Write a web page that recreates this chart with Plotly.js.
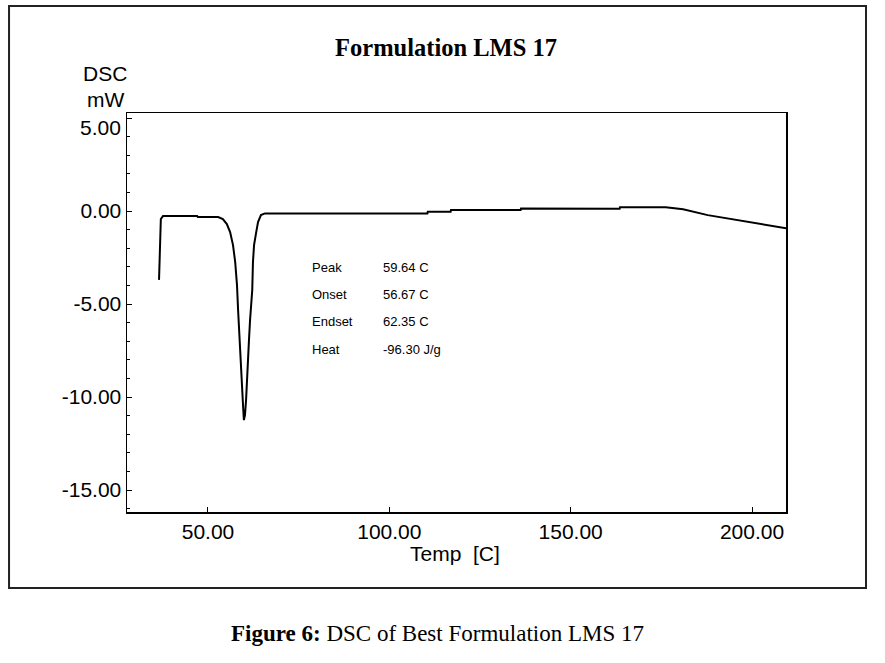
<!DOCTYPE html>
<html>
<head>
<meta charset="utf-8">
<script src="https://cdn.plot.ly/plotly-3.0.1.min.js"></script>
<style>
html,body{margin:0;padding:0;background:#fff;}
#chart{width:885px;height:663px;}
</style>
</head>
<body>
<div id="chart"></div>
<script>
// Temperature (C) and DSC heat flow (mW)
const temp = [36.5, 36.7, 37.0, 37.6, 47.0, 47.2, 52.8, 54.1, 55.2, 56.1, 56.9, 57.5, 58.0, 58.3, 58.8, 59.1, 59.4, 59.7, 59.9, 60.2, 60.5, 61.0, 61.3, 61.6, 62.2, 62.4, 62.7, 63.3, 63.8, 64.6, 65.7, 110.5, 110.6, 116.9, 117.0, 136.2, 136.3, 163.5, 163.6, 176.2, 181.0, 187.8, 198.9, 209.4];
const dsc  = [-3.70, -1.80, -0.43, -0.27, -0.27, -0.32, -0.32, -0.43, -0.70, -1.13, -1.83, -2.74, -3.98, -5.32, -7.47, -8.55, -9.89, -10.59, -11.24, -10.97, -10.16, -8.55, -6.94, -5.86, -4.25, -2.74, -1.83, -1.13, -0.59, -0.22, -0.13, -0.13, -0.04, -0.04, 0.05, 0.05, 0.13, 0.12, 0.20, 0.20, 0.10, -0.22, -0.58, -0.93];

const xTicks = [50, 100, 150, 200];
const xTickText = ["50.00", "100.00", "150.00", "200.00"];
const yTicks = [5, 0, -5, -10, -15];
const yTickText = ["", "0.00", "-5.00", "-10.00", "-15.00"];
const yTopLabel = "5.00";

const resultLabels = ["Peak", "Onset", "Endset", "Heat"];
const resultValues = ["59.64 C", "56.67 C", "62.35 C", "-96.30 J/g"];

const chartTitle = "Formulation LMS 17";
const xTitle = "Temp&nbsp;&nbsp;[C]";
const yTitleLines = ["DSC", "mW"];
const caption = "<b>Figure 6:</b> DSC of Best Formulation LMS 17";

const axisFont = {family: "Liberation Sans, Arial, sans-serif", size: 21, color: "#000"};
const rowY = [0.6123, 0.5439, 0.4769, 0.4085];

const annotations = [];
resultLabels.forEach((t, i) => {
  annotations.push({xref: "paper", yref: "paper", x: 0.2777, y: rowY[i], xanchor: "left", yanchor: "middle",
    text: t, showarrow: false, font: {family: "Liberation Sans, Arial, sans-serif", size: 13, color: "#000"}});
  annotations.push({xref: "paper", yref: "paper", x: 0.385, y: rowY[i], xanchor: "left", yanchor: "middle",
    text: resultValues[i], showarrow: false, font: {family: "Liberation Sans, Arial, sans-serif", size: 13, color: "#000"}});
});
// top tick label drawn slightly lower, as in the reference
annotations.push({xref: "paper", yref: "y", x: -0.006, y: 4.5, xanchor: "right", yanchor: "middle",
  text: yTopLabel, showarrow: false, font: axisFont});
annotations.push({xref: "paper", yref: "paper", x: -0.0334, y: 1.100, xanchor: "center", yanchor: "middle",
  text: yTitleLines[0], showarrow: false, font: axisFont});
annotations.push({xref: "paper", yref: "paper", x: -0.032, y: 1.0326, xanchor: "center", yanchor: "middle",
  text: yTitleLines[1], showarrow: false, font: axisFont});
annotations.push({xref: "paper", yref: "paper", x: 0.498, y: -0.1028, xanchor: "center", yanchor: "middle",
  text: xTitle, showarrow: false, font: axisFont});
annotations.push({xref: "paper", yref: "paper", x: 0.471, y: -0.3033, xanchor: "center", yanchor: "middle",
  text: caption, showarrow: false, font: {family: "Liberation Serif, Times New Roman, serif", size: 23, color: "#000"}});

const layout = {
  width: 885, height: 663,
  margin: {l: 127, r: 99, t: 113, b: 151, pad: 0},
  paper_bgcolor: "#fff", plot_bgcolor: "#fff",
  showlegend: false,
  title: {text: "<b>" + chartTitle + "</b>", x: 0.504, xanchor: "center", y: 0.928, yanchor: "middle", yref: "container",
    font: {family: "Liberation Serif, Times New Roman, serif", size: 24.5, color: "#000"}},
  xaxis: {range: [27.67, 209.37], tickvals: xTicks, ticktext: xTickText, ticks: "inside", ticklen: 5, tickcolor: "#000",
    showgrid: false, zeroline: false, showline: true, linecolor: "#000", linewidth: 1.5, mirror: true,
    tickfont: axisFont},
  yaxis: {range: [-16.18, 5.27], tickvals: yTicks, ticktext: yTickText, ticks: "inside", ticklen: 5, tickcolor: "#000",
    minor: {dtick: 1, ticks: "inside", ticklen: 3, tickcolor: "#000", showgrid: false},
    showgrid: false, zeroline: false, showline: true, linecolor: "#000", linewidth: 1.5, mirror: true,
    tickfont: axisFont},
  annotations: annotations,
  shapes: [{type: "rect", xref: "paper", yref: "paper", x0: -0.179, x1: 1.1214, y0: -0.1905, y1: 1.268,
    line: {color: "#222", width: 2}, fillcolor: "rgba(0,0,0,0)", layer: "below"}]
};

Plotly.newPlot("chart", [{
  type: "scatter", mode: "lines", x: temp, y: dsc,
  line: {color: "#000", width: 2}, hoverinfo: "skip"
}], layout, {staticPlot: true, displayModeBar: false});
</script>
</body>
</html>
